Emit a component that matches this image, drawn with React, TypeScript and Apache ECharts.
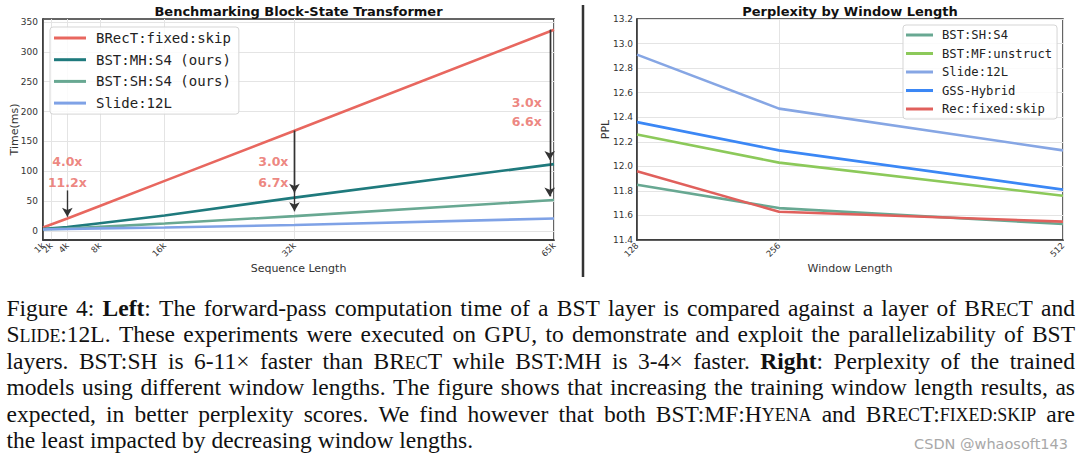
import React, { useEffect, useRef } from 'react';
import * as echarts from 'echarts';

// ---------- Left chart data ----------
const seqLengths = [1024, 2048, 4096, 8192, 16384, 32768, 65536];
const seqTickLabels = ['1k', '2k', '4k', '8k', '16k', '32k', '65k'];
const brectTime = [6, 11, 21, 42, 84, 168, 337];
const bstMhTime = [3.5, 4.5, 6.5, 13, 26, 56, 112];
const bstShTime = [3, 3.5, 4, 7, 12.5, 25, 52];
const slideTime = [2.5, 3, 3.5, 4.5, 6, 10, 21];
const timeTicks = [0, 50, 100, 150, 200, 250, 300, 350];

const speedupLabels = [
  { x: 4096, y: 116, text: '4.0x' },
  { x: 4096, y: 81, text: '11.2x' },
  { x: 30100, y: 116, text: '3.0x' },
  { x: 30100, y: 81, text: '6.7x' },
  { x: 62100, y: 216, text: '3.0x' },
  { x: 62100, y: 183, text: '6.6x' },
];
const speedupArrows = [
  { x: 4096, from: 68, to: 24 },
  { x: 32768, from: 168, to: 64 },
  { x: 32768, from: 168, to: 33 },
  { x: 65000, from: 337, to: 119 },
  { x: 65000, from: 337, to: 58 },
];

// ---------- Right chart data ----------
const windowLengths = [128, 256, 512];
const pplBstSh = [11.85, 11.66, 11.53];
const pplBstMf = [12.26, 12.03, 11.76];
const pplSlide = [12.91, 12.47, 12.13];
const pplGss = [12.36, 12.13, 11.81];
const pplRec = [11.96, 11.63, 11.55];

// ---------- Caption ----------
const captionLines = [
  'Figure 4: *Left*: The forward-pass computation time of a BST layer is compared against a layer of BR[ec]T and',
  'S[lide]:12L. These experiments were executed on GPU, to demonstrate and exploit the parallelizability of BST',
  'layers. BST:SH is 6-11\u00d7 faster than BR[ec]T while BST:MH is 3-4\u00d7 faster. *Right*: Perplexity of the trained',
  'models using different window lengths. The figure shows that increasing the training window length results, as',
  'expected, in better perplexity scores. We find however that both BST:MF:H[yena] and BR[ec]T:[fixed:skip] are',
  'the least impacted by decreasing window lengths.',
];
const watermark = 'CSDN @whaosoft143';

const CAP_FONT = 'Liberation Serif';
const CAP_SIZE = 23.5;
const SC_SIZE = 17.9;
const CAP_LEFT = 6.5;
const CAP_RIGHT = 1075;
const CAP_TOP = 308;
const CAP_PITCH = 26.4;

type Seg = { t: string; kind: 'n' | 'b' | 's' };

function parseWord(w: string): Seg[] {
  const segs: Seg[] = [];
  let mode: 'n' | 'b' | 's' = 'n';
  let buf = '';
  const push = () => {
    if (buf) segs.push({ t: mode === 's' ? buf.toUpperCase() : buf, kind: mode });
    buf = '';
  };
  for (const ch of w) {
    if (ch === '*') { push(); mode = mode === 'b' ? 'n' : 'b'; }
    else if (ch === '[') { push(); mode = 's'; }
    else if (ch === ']') { push(); mode = 'n'; }
    else buf += ch;
  }
  push();
  return segs;
}

function buildCaption(): any[] {
  const canvas = document.createElement('canvas');
  const ctx = canvas.getContext('2d')!;
  const fontOf = (k: string) =>
    `${k === 'b' ? 'bold ' : ''}${k === 's' ? SC_SIZE : CAP_SIZE}px "${CAP_FONT}"`;
  const measure = (s: Seg) => { ctx.font = fontOf(s.kind); return ctx.measureText(s.t).width; };
  ctx.font = fontOf('n');
  const spaceW = ctx.measureText(' ').width;
  const els: any[] = [];
  captionLines.forEach((line, li) => {
    const words = line.split(' ').map(parseWord);
    const widths = words.map(ws => ws.reduce((a, s) => a + measure(s), 0));
    const total = widths.reduce((a, b) => a + b, 0);
    const last = li === captionLines.length - 1;
    const gap = last ? spaceW : (CAP_RIGHT - CAP_LEFT - total) / (words.length - 1);
    const y = CAP_TOP + li * CAP_PITCH;
    let x = CAP_LEFT;
    words.forEach((ws, wi) => {
      let sx = x;
      ws.forEach(s => {
        const size = s.kind === 's' ? SC_SIZE : CAP_SIZE;
        els.push({
          type: 'text',
          x: sx,
          y: y + (s.kind === 's' ? (CAP_SIZE - SC_SIZE) * 0.3375 : 0),
          silent: true,
          style: {
            text: s.t,
            fontFamily: CAP_FONT,
            fontSize: size,
            fontWeight: s.kind === 'b' ? 'bold' : 'normal',
            fill: '#111',
            align: 'left', verticalAlign: 'middle',
            textAlign: 'left', textVerticalAlign: 'middle',
          },
        });
        sx += measure(s);
      });
      x += widths[wi] + gap;
    });
  });
  return els;
}

const AX_FONT = 'DejaVu Sans';
const TXT = '#333';

function textEl(text: string, x: number, y: number, opts: any = {}) {
  return {
    type: 'text', x, y, silent: true, rotation: opts.rotation || 0,
    style: {
      text, fontFamily: opts.fontFamily || AX_FONT, fontSize: opts.fontSize || 11,
      fontWeight: opts.fontWeight || 'normal', fill: opts.fill || TXT,
      align: opts.align || 'center', verticalAlign: 'middle',
      textAlign: opts.align || 'center', textVerticalAlign: 'middle',
    },
  };
}

function lineSeries(name: string, xs: number[], ys: number[], color: string, idx: number, extra: any = {}) {
  return {
    name, type: 'line', xAxisIndex: idx, yAxisIndex: idx,
    data: xs.map((x, i) => [x, ys[i]]),
    showSymbol: false, symbol: 'none',
    lineStyle: { color, width: 2.6 },
    itemStyle: { color },
    z: 3,
    ...extra,
  };
}

const seqLabel = (v: number) => seqTickLabels[seqLengths.indexOf(v)] ?? '';

export default function App() {
  const ref = useRef<HTMLDivElement>(null);
  useEffect(() => {
    document.body.style.margin = '0';
    const chart = echarts.init(ref.current!, undefined, { renderer: 'svg' });
    const axisLine = { show: true, onZero: false, lineStyle: { color: '#333', width: 1.5 } };
    const splitLine = { show: true, lineStyle: { color: '#e4e4e4', width: 1 } };
    const tickLabel = { color: TXT, fontFamily: AX_FONT, fontSize: 9 };

    const option: any = {
      animation: false,
      backgroundColor: '#fff',
      grid: [
        { left: 43, top: 19, width: 511, height: 221, show: true, borderColor: '#333', borderWidth: 1.5 },
        { left: 637, top: 19, width: 426, height: 221, show: true, borderColor: '#333', borderWidth: 1.5 },
      ],
      xAxis: [
        {
          type: 'value', gridIndex: 0, min: 1024, max: 65536, position: 'bottom', offset: 0,
          axisLine, splitLine,
          axisTick: { show: false, customValues: seqLengths },
          axisLabel: {
            ...tickLabel, fontSize: 8.5, rotate: 45, margin: 4, customValues: seqLengths.slice(1),
            showMinLabel: true, showMaxLabel: true,
            formatter: seqLabel,
          },
        },
        {
          type: 'value', gridIndex: 1, min: 128, max: 512,
          axisLine, splitLine,
          axisTick: { show: false, customValues: windowLengths },
          axisLabel: {
            ...tickLabel, fontSize: 8.5, rotate: 45, margin: 4, customValues: windowLengths,
            showMinLabel: true, showMaxLabel: true,
          },
        },
        {
          // second bottom axis on the left grid, carrying only the first (overlapping) tick label
          type: 'value', gridIndex: 0, min: 1024, max: 65536, position: 'bottom', offset: 0,
          axisLine: { show: false }, splitLine: { show: false },
          axisTick: { show: false, customValues: seqLengths.slice(0, 1) },
          axisLabel: {
            ...tickLabel, fontSize: 8.5, rotate: 45, margin: 4, customValues: seqLengths.slice(0, 1),
            showMinLabel: true, formatter: seqLabel,
          },
        },
      ],
      yAxis: [
        {
          type: 'value', gridIndex: 0, min: -15, max: 355,
          axisLine, splitLine,
          axisTick: { show: false, customValues: timeTicks },
          axisLabel: { ...tickLabel, margin: 5, customValues: timeTicks },
        },
        {
          type: 'value', gridIndex: 1, min: 11.4, max: 13.2, interval: 0.2,
          axisLine, splitLine,
          axisTick: { show: false },
          axisLabel: { ...tickLabel, margin: 4, formatter: (v: number) => v.toFixed(1) },
        },
      ],
      legend: [
        {
          data: ['BRecT:fixed:skip', 'BST:MH:S4 (ours)', 'BST:SH:S4 (ours)', 'Slide:12L'],
          orient: 'vertical', left: 50, top: 27,
          icon: 'rect', itemWidth: 32, itemHeight: 3, itemGap: 5.7,
          backgroundColor: 'rgba(255,255,255,0.85)', borderColor: '#d5d5d5', borderWidth: 1, borderRadius: 3,
          padding: [3, 8, 3, 4],
          textStyle: { fontFamily: 'DejaVu Sans Mono', fontSize: 14, color: '#222', lineHeight: 16, padding: [0, 0, 0, 5] },
          selectedMode: false,
        },
        {
          data: ['BST:SH:S4', 'BST:MF:unstruct', 'Slide:12L ', 'GSS-Hybrid', 'Rec:fixed:skip'],
          orient: 'vertical', left: 903, top: 25,
          icon: 'rect', itemWidth: 27, itemHeight: 3, itemGap: 4.5,
          backgroundColor: 'rgba(255,255,255,0.85)', borderColor: '#d5d5d5', borderWidth: 1, borderRadius: 3,
          padding: [3, 5, 3, 3],
          textStyle: { fontFamily: 'DejaVu Sans Mono', fontSize: 12.2, color: '#222', lineHeight: 14, padding: [0, 0, 0, 4] },
          selectedMode: false,
        },
      ],
      series: [
        lineSeries('BRecT:fixed:skip', seqLengths, brectTime, '#e8675f', 0, {
          markLine: {
            silent: true, symbol: ['none', 'arrow'], symbolSize: [8, 9],
            lineStyle: { color: '#333', width: 1.4, type: 'solid' },
            label: { show: false },
            data: speedupArrows.map(a => [{ coord: [a.x, a.from] }, { coord: [a.x, a.to] }]),
          },
        }),
        lineSeries('BST:MH:S4 (ours)', seqLengths, bstMhTime, '#1f7a7d', 0),
        lineSeries('BST:SH:S4 (ours)', seqLengths, bstShTime, '#68a892', 0),
        lineSeries('Slide:12L', seqLengths, slideTime, '#7fa2e6', 0),
        {
          name: 'speedups', type: 'scatter', xAxisIndex: 0, yAxisIndex: 0,
          data: speedupLabels.map(l => [l.x, l.y, l.text]),
          symbolSize: 1, itemStyle: { color: 'rgba(0,0,0,0)' }, z: 5,
          label: {
            show: true, position: 'inside', formatter: (p: any) => p.value[2],
            color: '#e8675f', fontSize: 12.5, fontWeight: 'bold', fontFamily: AX_FONT,
          },
        },
        lineSeries('BST:SH:S4', windowLengths, pplBstSh, '#68a892', 1),
        lineSeries('BST:MF:unstruct', windowLengths, pplBstMf, '#8cc95a', 1),
        lineSeries('Slide:12L ', windowLengths, pplSlide, '#86a6e4', 1),
        lineSeries('GSS-Hybrid', windowLengths, pplGss, '#3b87f5', 1),
        lineSeries('Rec:fixed:skip', windowLengths, pplRec, '#e0605c', 1),
      ],
      graphic: [
        textEl('Benchmarking Block-State Transformer', 298.5, 11, { fontSize: 13, fontWeight: 'bold', fill: '#111' }),
        textEl('Perplexity by Window Length', 850, 11, { fontSize: 13, fontWeight: 'bold', fill: '#111' }),
        textEl('Sequence Length', 298.5, 268, { fontSize: 11 }),
        textEl('Window Length', 850, 268, { fontSize: 11 }),
        textEl('Time(ms)', 14, 129.5, { fontSize: 11, rotation: Math.PI / 2 }),
        textEl('PPL', 605, 129.5, { fontSize: 11, rotation: Math.PI / 2 }),
        {
          type: 'line', silent: true,
          shape: { x1: 583, y1: 5, x2: 583, y2: 277 },
          style: { stroke: '#333', lineWidth: 2.5 },
        },
        textEl(watermark, 1068, 444, { fontSize: 14.5, fill: '#a8a8a8', align: 'right', fontFamily: 'DejaVu Sans' }),
        ...buildCaption(),
      ],
    };
    chart.setOption(option);
    return () => chart.dispose();
  }, []);
  return <div ref={ref} style={{ width: 1080, height: 460 }} />;
}
